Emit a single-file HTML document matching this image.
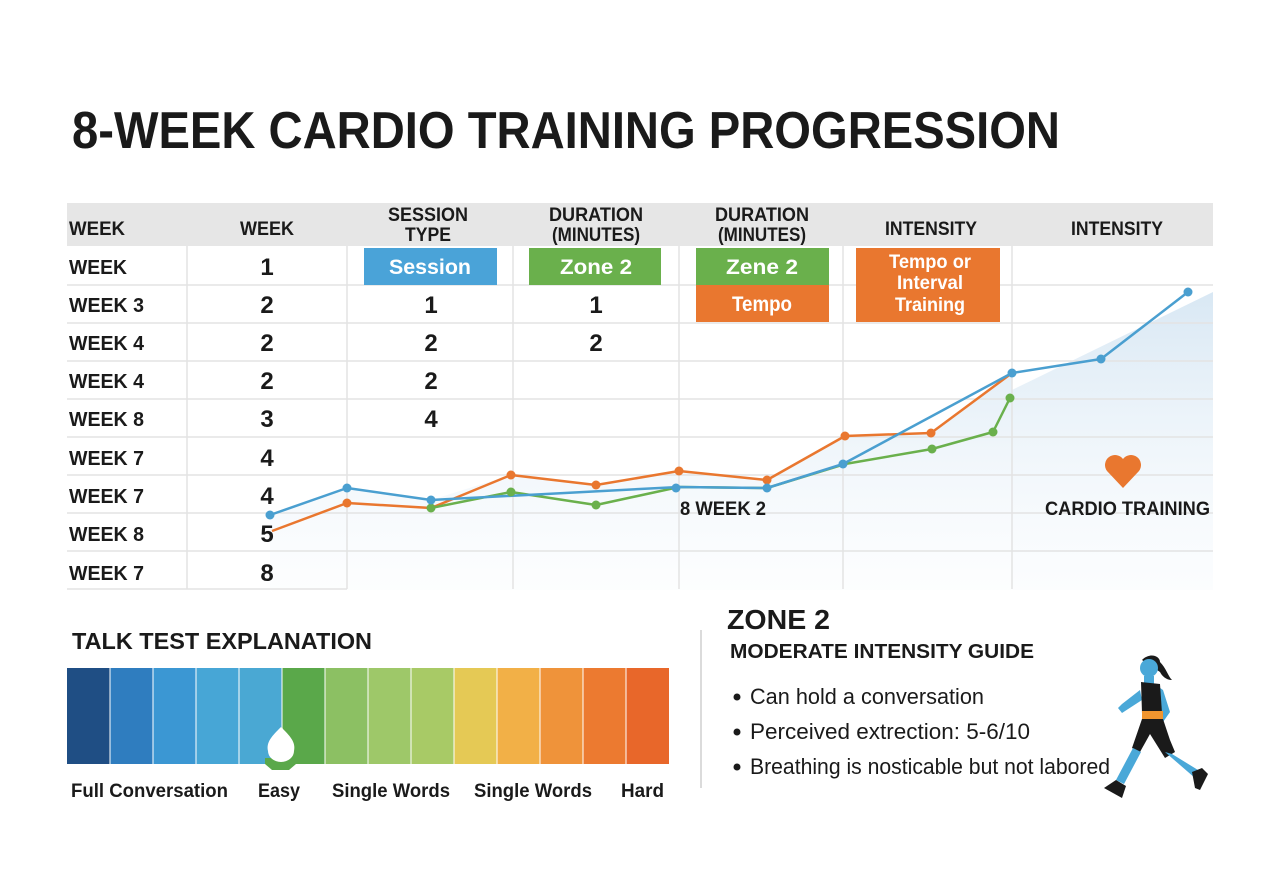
<!DOCTYPE html>
<html><head><meta charset="utf-8"><style>
html,body{margin:0;padding:0;background:#fff;}
svg{display:block;font-family:"Liberation Sans",sans-serif;}
</style></head><body>
<svg width="1280" height="896" viewBox="0 0 1280 896" xmlns="http://www.w3.org/2000/svg">
<defs>
<linearGradient id="fg" x1="0" y1="0" x2="0" y2="1">
<stop offset="0" stop-color="#cfe2f1" stop-opacity="0.8"/>
<stop offset="1" stop-color="#eef5fb" stop-opacity="0.2"/>
</linearGradient>
</defs>
<rect width="1280" height="896" fill="#fff"/>
<text x="72" y="148" font-size="52" font-weight="bold" fill="#1a1a1a" textLength="988" lengthAdjust="spacingAndGlyphs">8-WEEK CARDIO TRAINING PROGRESSION</text>

<rect x="67" y="203" width="1146" height="43" fill="#e6e6e6"/>
<g font-size="19" font-weight="bold" fill="#1a1a1a" text-anchor="middle">
<text x="97" y="235" textLength="56" lengthAdjust="spacingAndGlyphs">WEEK</text>
<text x="267" y="235" textLength="54" lengthAdjust="spacingAndGlyphs">WEEK</text>
<text x="428" y="221" textLength="80" lengthAdjust="spacingAndGlyphs">SESSION</text>
<text x="428" y="241" textLength="46" lengthAdjust="spacingAndGlyphs">TYPE</text>
<text x="596" y="221" textLength="94" lengthAdjust="spacingAndGlyphs">DURATION</text>
<text x="596" y="241" textLength="88" lengthAdjust="spacingAndGlyphs">(MINUTES)</text>
<text x="762" y="221" textLength="94" lengthAdjust="spacingAndGlyphs">DURATION</text>
<text x="762" y="241" textLength="88" lengthAdjust="spacingAndGlyphs">(MINUTES)</text>
<text x="931" y="235" textLength="92" lengthAdjust="spacingAndGlyphs">INTENSITY</text>
<text x="1117" y="235" textLength="92" lengthAdjust="spacingAndGlyphs">INTENSITY</text>
</g>

<polygon points="270,515 347,488 431,500 511,475 596,485 679,471 767,480 845,436 931,433 1012,373 1012,590 270,590" fill="url(#fg)" opacity="0.7"/>
<polygon points="1012,390 1213,292 1213,590 1012,590" fill="url(#fg)"/>

<g stroke="#e3e3e3" stroke-width="1.5">
<line x1="67" y1="285" x2="1213" y2="285"/>
<line x1="67" y1="323" x2="1213" y2="323"/>
<line x1="67" y1="361" x2="1213" y2="361"/>
<line x1="67" y1="399" x2="1213" y2="399"/>
<line x1="67" y1="437" x2="1213" y2="437"/>
<line x1="67" y1="475" x2="1213" y2="475"/>
<line x1="67" y1="513" x2="1213" y2="513"/>
<line x1="67" y1="551" x2="1213" y2="551"/>
<line x1="67" y1="589" x2="347" y2="589"/>
<line x1="187" y1="246" x2="187" y2="589"/>
<line x1="347" y1="246" x2="347" y2="589"/>
<line x1="513" y1="246" x2="513" y2="589"/>
<line x1="679" y1="246" x2="679" y2="589"/>
<line x1="843" y1="246" x2="843" y2="589"/>
<line x1="1012" y1="246" x2="1012" y2="589"/>
</g>

<g font-size="20" font-weight="bold" fill="#1a1a1a">
<text x="69" y="274" textLength="58" lengthAdjust="spacingAndGlyphs">WEEK</text>
<text x="69" y="312" textLength="75" lengthAdjust="spacingAndGlyphs">WEEK 3</text>
<text x="69" y="350" textLength="75" lengthAdjust="spacingAndGlyphs">WEEK 4</text>
<text x="69" y="388" textLength="75" lengthAdjust="spacingAndGlyphs">WEEK 4</text>
<text x="69" y="426" textLength="75" lengthAdjust="spacingAndGlyphs">WEEK 8</text>
<text x="69" y="465" textLength="75" lengthAdjust="spacingAndGlyphs">WEEK 7</text>
<text x="69" y="503" textLength="75" lengthAdjust="spacingAndGlyphs">WEEK 7</text>
<text x="69" y="541" textLength="75" lengthAdjust="spacingAndGlyphs">WEEK 8</text>
<text x="69" y="580" textLength="75" lengthAdjust="spacingAndGlyphs">WEEK 7</text>
</g>
<g font-size="24" font-weight="bold" fill="#1a1a1a" text-anchor="middle">
<text x="267" y="275">1</text><text x="267" y="313">2</text><text x="267" y="351">2</text><text x="267" y="389">2</text>
<text x="267" y="427">3</text><text x="267" y="466">4</text><text x="267" y="504">4</text><text x="267" y="542">5</text><text x="267" y="581">8</text>
<text x="431" y="313">1</text><text x="431" y="351">2</text><text x="431" y="389">2</text><text x="431" y="427">4</text>
<text x="596" y="313">1</text><text x="596" y="351">2</text>
</g>

<rect x="364" y="248" width="133" height="37" fill="#4aa3d8"/>
<rect x="529" y="248" width="132" height="37" fill="#6ab04c"/>
<rect x="696" y="248" width="133" height="37" fill="#6ab04c"/>
<rect x="696" y="285" width="133" height="37" fill="#e9772f"/>
<rect x="856" y="248" width="144" height="74" fill="#e9772f"/>
<g font-size="21" font-weight="bold" fill="#fff" text-anchor="middle">
<text x="430" y="274" textLength="82" lengthAdjust="spacingAndGlyphs">Session</text>
<text x="596" y="274" textLength="72" lengthAdjust="spacingAndGlyphs">Zone 2</text>
<text x="762" y="274" textLength="72" lengthAdjust="spacingAndGlyphs">Zene 2</text>
<text x="762" y="311" textLength="60" lengthAdjust="spacingAndGlyphs">Tempo</text>
</g>
<g font-size="19" font-weight="bold" fill="#fff" text-anchor="middle">
<text x="930" y="268" textLength="82" lengthAdjust="spacingAndGlyphs">Tempo or</text>
<text x="930" y="289" textLength="66" lengthAdjust="spacingAndGlyphs">Interval</text>
<text x="930" y="311" textLength="70" lengthAdjust="spacingAndGlyphs">Training</text>
</g>

<g fill="none" stroke-width="2.5" stroke-linejoin="round">
<polyline stroke="#e9772f" points="272,531 347,503 431,508 511,475 596,485 679,471 767,480 845,436 931,433 1012,373"/>
<polyline stroke="#6ab04c" points="431,508 511,492 596,505 679,487 767,488 845,464 932,449 993,432 1010,398"/>
<polyline stroke="#4a9fd0" points="270,515 347,488 431,500 679,487 767,488 843,464 1012,373 1101,359 1188,292"/>
</g>
<g fill="#e9772f"><circle cx="347" cy="503" r="4.5"/><circle cx="511" cy="475" r="4.5"/><circle cx="596" cy="485" r="4.5"/><circle cx="679" cy="471" r="4.5"/><circle cx="767" cy="480" r="4.5"/><circle cx="845" cy="436" r="4.5"/><circle cx="931" cy="433" r="4.5"/></g>
<g fill="#6ab04c"><circle cx="431" cy="508" r="4.5"/><circle cx="511" cy="492" r="4.5"/><circle cx="596" cy="505" r="4.5"/><circle cx="932" cy="449" r="4.5"/><circle cx="993" cy="432" r="4.5"/><circle cx="1010" cy="398" r="4.5"/></g>
<g fill="#4a9fd0"><circle cx="270" cy="515" r="4.5"/><circle cx="347" cy="488" r="4.5"/><circle cx="431" cy="500" r="4.5"/><circle cx="676" cy="488" r="4.5"/><circle cx="767" cy="488" r="4.5"/><circle cx="843" cy="464" r="4.5"/><circle cx="1012" cy="373" r="4.5"/><circle cx="1101" cy="359" r="4.5"/><circle cx="1188" cy="292" r="4.5"/></g>

<text x="680" y="515" font-size="19" font-weight="bold" fill="#1a1a1a" textLength="86" lengthAdjust="spacingAndGlyphs">8 WEEK 2</text>
<path d="M1123,488 L1107,471 A8.5,8.5 0 0 1 1123,459 A8.5,8.5 0 0 1 1139,471 Z" fill="#e9772f"/>
<text x="1045" y="515" font-size="19" font-weight="bold" fill="#1a1a1a" textLength="165" lengthAdjust="spacingAndGlyphs">CARDIO TRAINING</text>

<text x="72" y="649" font-size="23" font-weight="bold" fill="#1a1a1a" textLength="300" lengthAdjust="spacingAndGlyphs">TALK TEST EXPLANATION</text>
<g>
<rect x="67" y="668" width="43" height="96" fill="#1f4e84"/>
<rect x="110" y="668" width="43" height="96" fill="#2f7dbf"/>
<rect x="153" y="668" width="43" height="96" fill="#3b97d3"/>
<rect x="196" y="668" width="43" height="96" fill="#47a6d6"/>
<rect x="239" y="668" width="43" height="96" fill="#4aa8d3"/>
<rect x="282" y="668" width="43" height="96" fill="#5aa84a"/>
<rect x="325" y="668" width="43" height="96" fill="#8cc063"/>
<rect x="368" y="668" width="43" height="96" fill="#9ec869"/>
<rect x="411" y="668" width="43" height="96" fill="#a8ca66"/>
<rect x="454" y="668" width="43" height="96" fill="#e5c955"/>
<rect x="497" y="668" width="43" height="96" fill="#f2b047"/>
<rect x="540" y="668" width="43" height="96" fill="#ef933a"/>
<rect x="583" y="668" width="43" height="96" fill="#ec7a30"/>
<rect x="626" y="668" width="43" height="96" fill="#e8672a"/>
</g>
<g stroke="#fff" stroke-width="2" opacity="0.5">
<line x1="110" y1="668" x2="110" y2="764"/><line x1="153" y1="668" x2="153" y2="764"/><line x1="196" y1="668" x2="196" y2="764"/><line x1="239" y1="668" x2="239" y2="764"/><line x1="282" y1="668" x2="282" y2="764"/><line x1="325" y1="668" x2="325" y2="764"/><line x1="368" y1="668" x2="368" y2="764"/><line x1="411" y1="668" x2="411" y2="764"/><line x1="454" y1="668" x2="454" y2="764"/><line x1="497" y1="668" x2="497" y2="764"/><line x1="540" y1="668" x2="540" y2="764"/><line x1="583" y1="668" x2="583" y2="764"/><line x1="626" y1="668" x2="626" y2="764"/>
</g>
<path d="M265,764 L265,758 L296,758 L296,764 L289,770 L272,770 Z" fill="#5aa84a"/>
<path d="M281,727 C290,736 296,742 294,751 A13,11 0 0 1 268,751 C266,742 272,736 281,727 Z" fill="#fff"/>
<g font-size="19" font-weight="bold" fill="#1a1a1a">
<text x="71" y="797" textLength="157" lengthAdjust="spacingAndGlyphs">Full Conversation</text>
<text x="258" y="797" textLength="42" lengthAdjust="spacingAndGlyphs">Easy</text>
<text x="332" y="797" textLength="118" lengthAdjust="spacingAndGlyphs">Single Words</text>
<text x="474" y="797" textLength="118" lengthAdjust="spacingAndGlyphs">Single Words</text>
<text x="621" y="797" textLength="43" lengthAdjust="spacingAndGlyphs">Hard</text>
</g>

<line x1="701" y1="630" x2="701" y2="788" stroke="#cfcfcf" stroke-width="1.5"/>
<text x="727" y="629" font-size="28" font-weight="bold" fill="#1a1a1a" textLength="103" lengthAdjust="spacingAndGlyphs">ZONE 2</text>
<text x="730" y="658" font-size="20" font-weight="bold" fill="#1a1a1a" textLength="304" lengthAdjust="spacingAndGlyphs">MODERATE INTENSITY GUIDE</text>
<g font-size="22" fill="#1a1a1a">
<circle cx="737" cy="697" r="3.5"/><text x="750" y="704" textLength="234" lengthAdjust="spacingAndGlyphs">Can hold a conversation</text>
<circle cx="737" cy="732" r="3.5"/><text x="750" y="739" textLength="280" lengthAdjust="spacingAndGlyphs">Perceived extrection: 5-6/10</text>
<circle cx="737" cy="767" r="3.5"/><text x="750" y="774" textLength="360" lengthAdjust="spacingAndGlyphs">Breathing is nosticable but not labored</text>
</g>

<g>
<path d="M1142,660 C1150,652 1160,656 1160,662 C1166,668 1168,676 1172,680 C1166,680 1162,676 1160,672 Z" fill="#1a1a1a"/>
<circle cx="1149" cy="668" r="9" fill="#4aa8d8"/>
<path d="M1144,676 L1154,676 L1154,684 L1144,684 Z" fill="#4aa8d8"/>
<path d="M1153,683 L1163,690 L1170,712 L1163,722 L1158,718 L1162,712 L1158,700 Z" fill="#4aa8d8"/>
<path d="M1140,690 L1122,704 L1118,708 L1122,713 L1142,700 Z" fill="#4aa8d8"/>
<path d="M1141,682 L1160,684 L1162,713 L1142,713 Z" fill="#1a1a1a"/>
<rect x="1142" y="711" width="21" height="9" fill="#f0952f"/>
<path d="M1142,719 L1163,719 L1170,740 L1175,752 L1165,758 L1150,734 L1140,752 L1132,748 Z" fill="#1a1a1a"/>
<path d="M1133,748 L1141,752 L1124,784 L1116,780 Z" fill="#4aa8d8"/>
<path d="M1165,752 L1172,754 L1198,770 L1195,778 Z" fill="#4aa8d8"/>
<path d="M1104,788 L1116,780 L1126,786 L1122,798 Z" fill="#1a1a1a"/>
<path d="M1192,772 L1202,768 L1208,774 L1200,790 L1195,788 Z" fill="#1a1a1a"/>
</g>
</svg>
</body></html>
